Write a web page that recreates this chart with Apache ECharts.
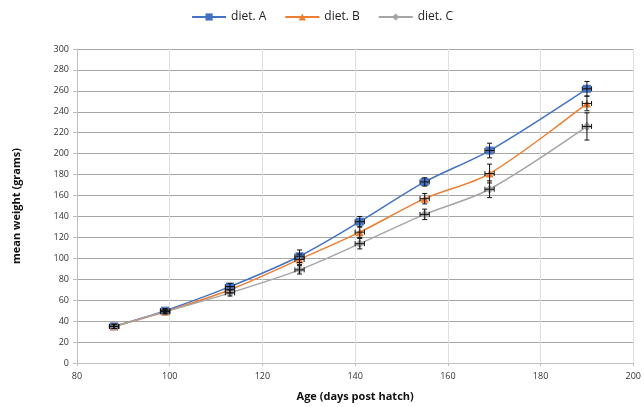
<!DOCTYPE html>
<html><head><meta charset="utf-8">
<script src="https://cdn.jsdelivr.net/npm/echarts@6/dist/echarts.min.js"></script>
<style>html,body{margin:0;padding:0;background:#fff}#c{width:644px;height:407px}</style>
</head><body><div id="c"></div>
<script>
var ages = [88, 99, 113, 128, 141, 155, 169, 190];
var dietA = [35, 50, 73, 102, 135, 173, 203, 262];
var dietB = [35, 49, 70, 99, 125, 157, 181, 248];
var dietC = [35, 49, 67, 89, 114, 142, 166, 226];
var errA = [2, 2, 3, 6, 5, 4, 7, 7];
var errB = [2, 2, 3, 5, 5, 5, 9, 7];
var errC = [2, 2, 3, 4, 5, 5, 8, 13];
var ageErr = [1, 1, 1, 1, 1, 1, 1, 1];
var xTicks = [80, 100, 120, 140, 160, 180, 200];

var colors = ['#4472C4', '#ED7D31', '#A5A5A5'];
var names = ['diet. A', 'diet. B', 'diet. C'];
var values = [dietA, dietB, dietC];
var errs = [errA, errB, errC];
var symbols = ['rect', 'triangle', 'diamond'];

var font = 'Open Sans';
var series = [];
for (var s = 0; s < 3; s++) {
  series.push({
    name: names[s], type: 'line', smooth: 0.3,
    data: ages.map(function (a, i) { return [a, values[s][i]]; }),
    symbol: symbols[s], symbolSize: s === 2 ? 9 : 8,
    itemStyle: { color: colors[s] },
    lineStyle: { color: colors[s], width: 1.5 },
    z: 3
  });
}
for (var s2 = 0; s2 < 3; s2++) {
  (function (s) {
    series.push({
      type: 'custom', name: names[s] + ' err', silent: true, z: 4,
      data: ages.map(function (a, i) { return [a, values[s][i], errs[s][i], ageErr[i]]; }),
      renderItem: function (params, api) {
        var x = api.value(0), y = api.value(1), e = api.value(2), ex = api.value(3);
        var top = api.coord([x, y + e]), bot = api.coord([x, y - e]);
        var lft = api.coord([x - ex, y]), rgt = api.coord([x + ex, y]);
        var c = 2.5;
        var st = { stroke: '#111', lineWidth: 1 };
        return { type: 'group', children: [
          { type: 'line', shape: { x1: top[0], y1: top[1], x2: bot[0], y2: bot[1] }, style: st },
          { type: 'line', shape: { x1: top[0] - c, y1: top[1], x2: top[0] + c, y2: top[1] }, style: st },
          { type: 'line', shape: { x1: bot[0] - c, y1: bot[1], x2: bot[0] + c, y2: bot[1] }, style: st },
          { type: 'line', shape: { x1: lft[0], y1: lft[1], x2: rgt[0], y2: rgt[1] }, style: st },
          { type: 'line', shape: { x1: lft[0], y1: lft[1] - c, x2: lft[0], y2: lft[1] + c }, style: st },
          { type: 'line', shape: { x1: rgt[0], y1: rgt[1] - c, x2: rgt[0], y2: rgt[1] + c }, style: st }
        ] };
      }
    });
  })(s2);
}

var chart = echarts.init(document.getElementById('c'), null, { renderer: 'canvas' });
chart.setOption({
  animation: false,
  textStyle: { fontFamily: font },
  legend: {
    data: names, top: 6, left: 'center', itemWidth: 34, itemHeight: 9, itemGap: 18,
    textStyle: { fontFamily: font, fontSize: 12, color: '#222' }
  },
  grid: { left: 77, right: 7, top: 49, bottom: 44 },
  xAxis: {
    type: 'value', min: 80, max: 200, interval: 20,
    name: 'Age (days post hatch)', nameLocation: 'middle', nameGap: 28,
    nameTextStyle: { fontFamily: font, fontSize: 11, fontWeight: 'bold', color: '#111' },
    axisLine: { show: true, lineStyle: { color: '#BFBFBF' } },
    axisTick: { show: true, length: 3, lineStyle: { color: '#BFBFBF' } },
    axisLabel: { fontSize: 9, color: '#333', margin: 9 },
    splitLine: { show: true, lineStyle: { color: '#E0E0E0' } }
  },
  yAxis: {
    type: 'value', min: 0, max: 300, interval: 20,
    name: 'mean weight (grams)', nameLocation: 'middle', nameGap: 55,
    nameTextStyle: { fontFamily: font, fontSize: 11, fontWeight: 'bold', color: '#111' },
    axisLine: { show: true, lineStyle: { color: '#BFBFBF' } },
    axisTick: { show: true, length: 4, lineStyle: { color: '#BFBFBF' } },
    axisLabel: { fontSize: 9, color: '#333', margin: 8 },
    splitLine: { show: true, lineStyle: { color: '#A6A6A6' } }
  },
  series: series
});
</script></body></html>
